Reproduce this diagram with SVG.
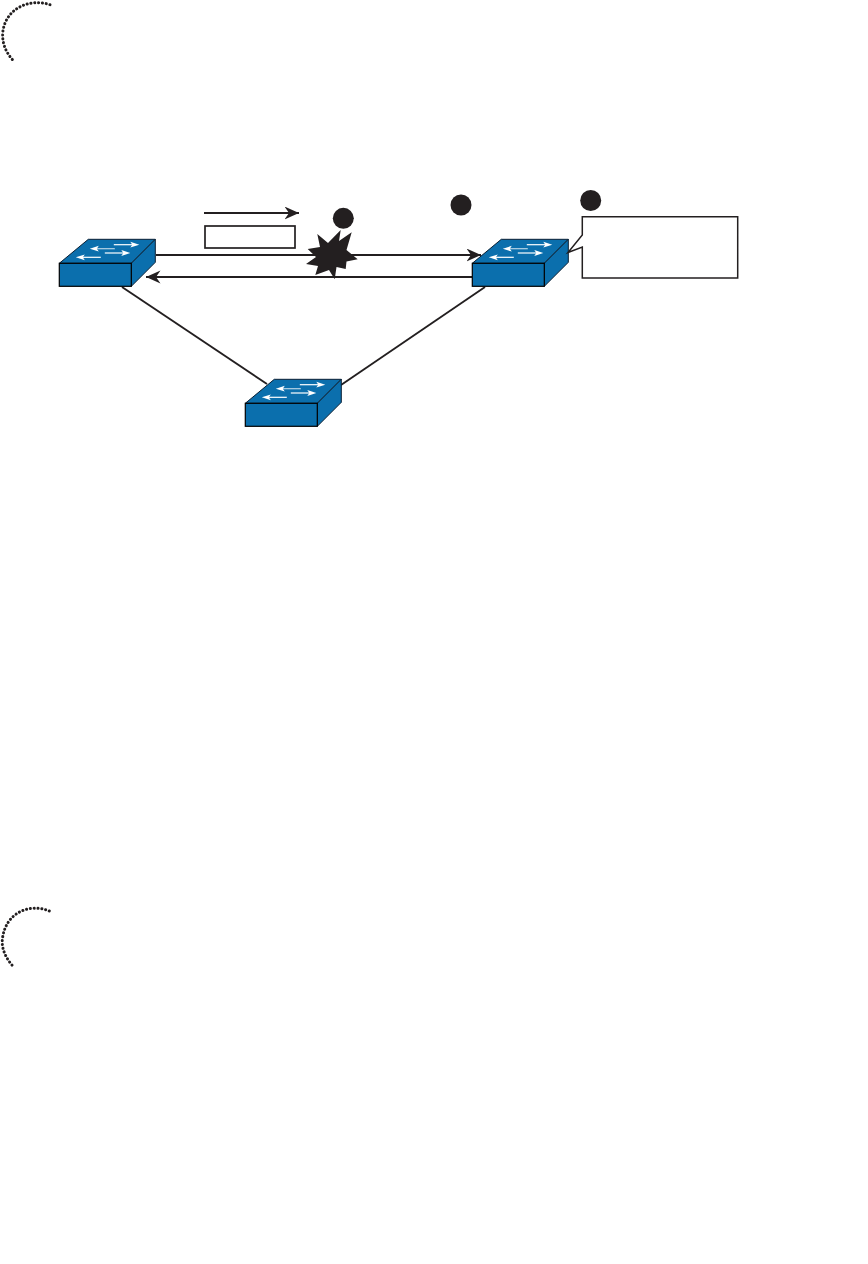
<svg xmlns="http://www.w3.org/2000/svg" width="868" height="1264" viewBox="0 0 868 1264">
<style>
.ln{fill:none;stroke:#231f20;stroke-width:1.9}
.dot{fill:#231f20}
.face{fill:#0b6fad;stroke:#0a1f33;stroke-width:1;stroke-linejoin:round}
.front{fill:#0b6fad;stroke:#000;stroke-width:1.2}
.wa{stroke:#fff;stroke-width:1.200;fill:none}
.wh{fill:#fff}
.dots{fill:none;stroke:#231f20;stroke-width:3;stroke-linecap:round;stroke-dasharray:.1 3.75}
</style>
<defs>
<marker id="ah" markerUnits="userSpaceOnUse" markerWidth="16" markerHeight="14" refX="14.500" refY="6.500" orient="auto"><path d="M0,0L14.500,6.500L0,13L4.500,6.500Z" fill="#231f20"/></marker>
<g id="sw">
<path class="face" d="M0,0L29,-24L96,-24L72,0Z"/>
<path class="face" d="M72,0L96,-24L96,-1L72,23Z"/>
<rect class="front" x="0" y="0" width="72" height="23"/>
<path class="wa" d="M54.500,-18.600H74"/><path class="wh" d="M80,-18.600L71,-21.500L73,-18.600L71,-15.700Z"/>
<path class="wa" d="M36,-14.600H55.500" stroke-opacity=".7"/><path class="wh" d="M30.500,-14.600L39.500,-17.500L37.500,-14.600L39.500,-11.700Z"/>
<path class="wa" d="M45.500,-10.300H65"/><path class="wh" d="M71,-10.300L62,-13.200L64,-10.300L62,-7.400Z"/>
<path class="wa" d="M22,-6H41.500"/><path class="wh" d="M16.500,-6L25.500,-8.900L23.500,-6L25.500,-3.100Z"/>
</g>
</defs>
<path id="corner-top" class="dots" d="M50,4.700C30,-2 5,8 2.700,33C2,45 7,54 14.300,61.700"/>
<path id="corner-bottom" class="dots" d="M49.300,911C30,903 5,912 2.300,940C1.500,950 7,960 14.300,967.700"/>
<g id="connectors">
<path class="ln" d="M156,255H481" marker-end="url(#ah)"/>
<path class="ln" d="M472,277H146" marker-end="url(#ah)"/>
<path class="ln" d="M122,287L267,384"/>
<path class="ln" d="M485,287L341,385"/>
<path class="ln" d="M204,213H299" marker-end="url(#ah)"/>
</g>
<g id="switch-left"><use href="#sw" x="59.300" y="263.300"/></g>
<g id="switch-right"><use href="#sw" x="472.300" y="263.300"/></g>
<g id="switch-bottom"><use href="#sw" x="245.300" y="403.300"/></g>
<rect id="label-box" x="205" y="226" width="90" height="22" fill="#fff" stroke="#231f20" stroke-width="1.700"/>
<path id="break" class="dot" d="M340.700,230L339,241L351.700,232.300L346.500,250L357.700,259.300L346.500,261.500L345.700,269L336.500,267L334.700,279.300L329,270L315.300,275L318,266L306,264L316,257L307.700,249L320,247L317.300,234L328,243Z"/>
<circle id="step-1" class="dot" cx="343.300" cy="218.300" r="10.500"/>
<circle id="step-2" class="dot" cx="461" cy="205" r="10.500"/>
<circle id="step-3" class="dot" cx="590.700" cy="200.500" r="10.500"/>
<path id="callout" d="M582.300,216.700H737.700V278H582.300V247L568,252.500L582.300,235Z" fill="#fff" stroke="#231f20" stroke-width="1.500"/>
</svg>
